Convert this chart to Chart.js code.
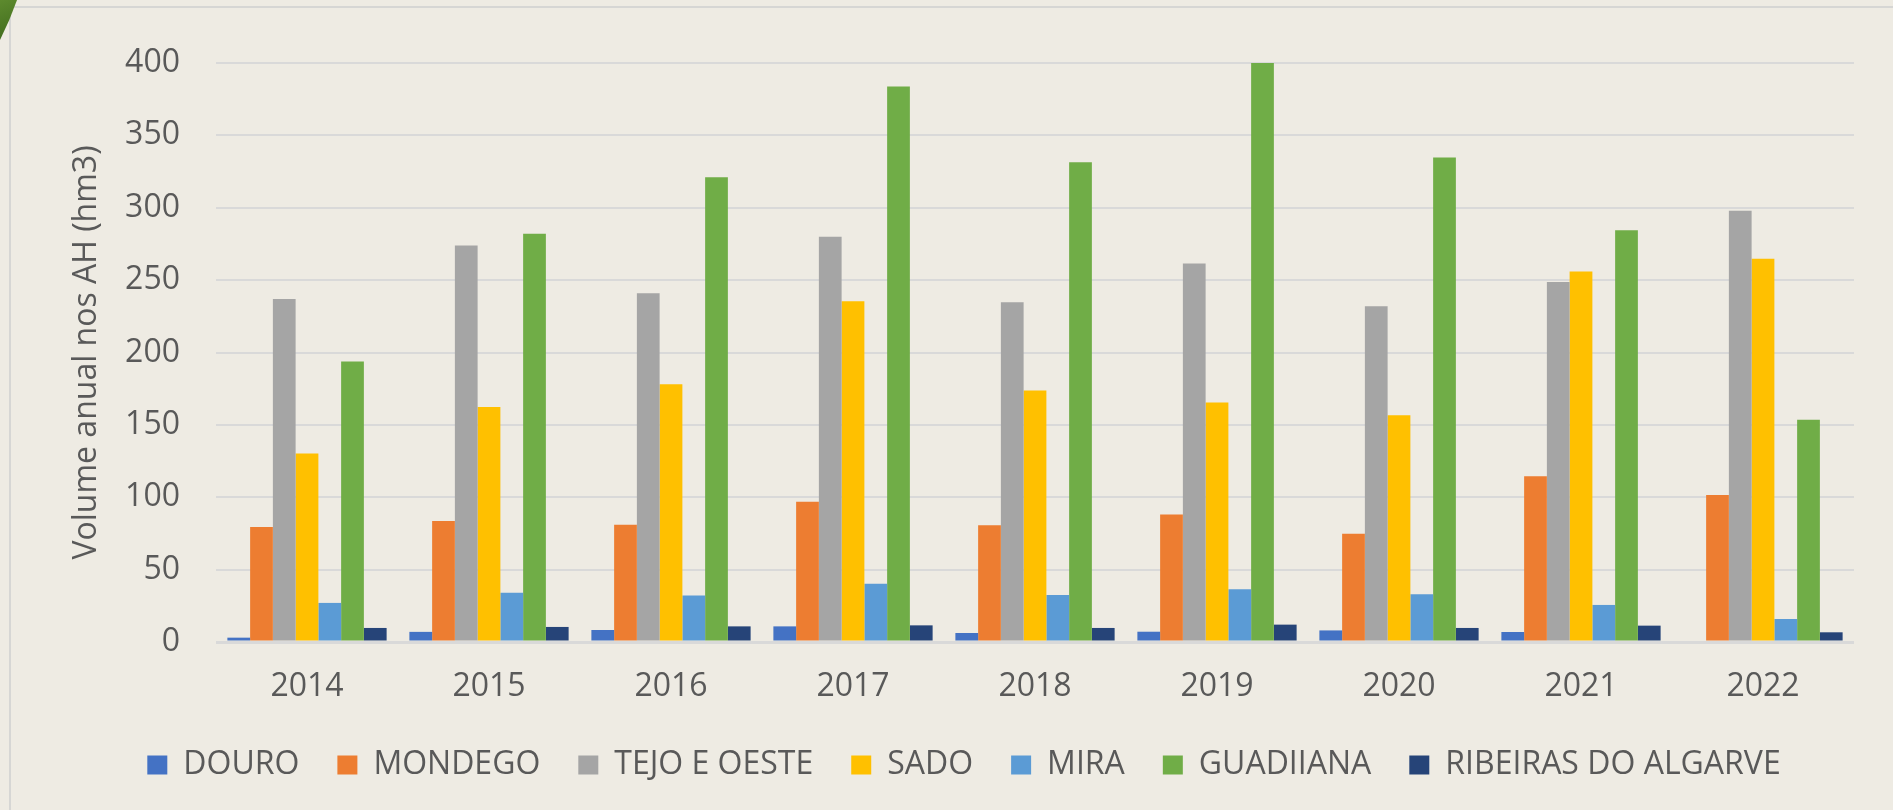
<!DOCTYPE html>
<html>
<head>
<meta charset="utf-8">
<script src="https://cdn.jsdelivr.net/npm/chart.js@4.4.0/dist/chart.umd.min.js"></script>
<style>
  html, body { margin: 0; padding: 0; background: #eeebe3; }
</style>
</head>
<body>
<canvas id="chart" width="1893" height="810"></canvas>
<script>
const years = ["2014", "2015", "2016", "2017", "2018", "2019", "2020", "2021", "2022"];
const douro = [3, 7, 8.3, 10.8, 6.2, 7.1, 8, 6.9, 0];
const mondego = [79.4, 83.6, 81, 96.9, 80.6, 88, 74.7, 114.5, 101.6];
const tejoOeste = [237, 274, 241, 280, 234.7, 261.5, 232, 248.7, 298];
const sado = [130.3, 162.3, 178, 235.4, 173.7, 165.5, 156.6, 255.9, 264.8];
const mira = [27, 34, 32.2, 40.3, 32.5, 36.4, 33, 25.6, 15.9];
const guadiana = [193.7, 282, 321, 383.7, 331.4, 400, 334.8, 284.5, 153.5];
const ribeiras = [9.7, 10.4, 10.8, 11.5, 9.7, 12, 9.7, 11.3, 6.7];

const yTicks = [0, 50, 100, 150, 200, 250, 300, 350, 400];

Chart.defaults.font.family = "'Open Sans', sans-serif";
Chart.defaults.color = "#595959";

// background, frame lines and the leaf corner
const decor = {
  id: "decor",
  beforeDraw(chart) {
    const ctx = chart.ctx;
    ctx.save();
    ctx.fillStyle = "#eeebe3";
    ctx.fillRect(0, 0, chart.width, chart.height);
    ctx.strokeStyle = "#d6d6d4";
    ctx.lineWidth = 2;
    ctx.beginPath();
    ctx.moveTo(chart.width, 7);
    ctx.lineTo(10, 7);
    ctx.lineTo(10, chart.height);
    ctx.stroke();
    const g = ctx.createLinearGradient(0, 0, 16, 40);
    g.addColorStop(0, "#5d8a2e");
    g.addColorStop(1, "#3f6a1c");
    ctx.fillStyle = g;
    ctx.beginPath();
    ctx.moveTo(0, 0);
    ctx.lineTo(17, 0);
    ctx.quadraticCurveTo(10, 20, 0, 40);
    ctx.closePath();
    ctx.fill();
    ctx.restore();
  }
};

const makeSet = (label, data, color) => ({
  label,
  data,
  backgroundColor: color,
  borderWidth: 0,
  categoryPercentage: 0.875,
  barPercentage: 1.0
});

new Chart(document.getElementById("chart"), {
  type: "bar",
  data: {
    labels: years,
    datasets: [
      makeSet("DOURO", douro, "#4472c4"),
      makeSet("MONDEGO", mondego, "#ed7d31"),
      makeSet("TEJO E OESTE", tejoOeste, "#a5a5a5"),
      makeSet("SADO", sado, "#ffc000"),
      makeSet("MIRA", mira, "#5b9bd5"),
      makeSet("GUADIIANA", guadiana, "#70ad47"),
      makeSet("RIBEIRAS DO ALGARVE", ribeiras, "#264478")
    ]
  },
  options: {
    responsive: false,
    animation: false,
    layout: {
      padding: { left: 35, right: 0, top: 63, bottom: 19 }
    },
    plugins: {
      tooltip: { enabled: false },
      legend: {
        position: "bottom",
        labels: {
          boxWidth: 20,
          boxHeight: 19,
          padding: 38,
          font: { size: 32 },
          color: "#595959"
        }
      }
    },
    scales: {
      x: {
        grid: { display: false },
        border: { display: false },
        ticks: { font: { size: 32 }, padding: 18, color: "#595959" },
        afterFit(s) { s.height = 69; }
      },
      y: {
        min: 0,
        max: 400,
        afterBuildTicks(s) { s.ticks = yTicks.map(v => ({ value: v })); },
        grid: {
          color: "#d9d9d9",
          lineWidth: (c) => (c.tick && c.tick.value === 0 ? 3 : 2),
          drawTicks: false
        },
        border: { display: false },
        ticks: { font: { size: 32 }, padding: 36, color: "#595959" },
        title: {
          display: true,
          text: "Volume anual nos AH (hm3)",
          font: { size: 32 },
          color: "#595959",
          padding: { top: 33, bottom: 0 }
        },
        afterFit(s) { s.width = 181; }
      },
      y2: {
        position: "right",
        grid: { display: false },
        border: { display: false },
        ticks: { display: false },
        afterFit(s) { s.width = 39; }
      }
    }
  },
  plugins: [decor]
});
</script>
</body>
</html>
